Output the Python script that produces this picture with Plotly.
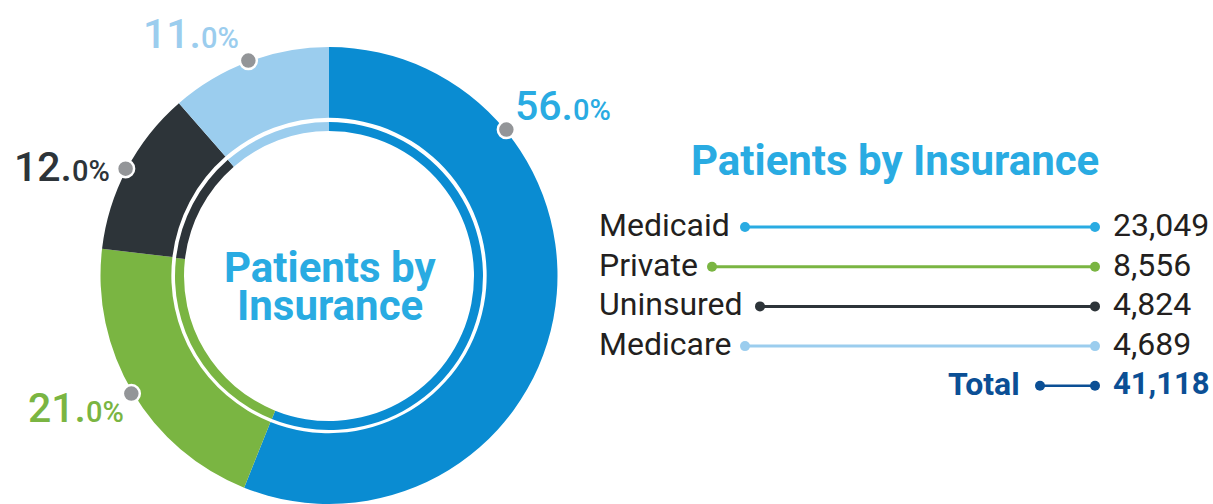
import math
import plotly.graph_objects as go

# ---------------- data ----------------
categories = ["Medicaid", "Private", "Uninsured", "Medicare"]
patients = [23049, 8556, 4824, 4689]
pct_labels = ["56.0%", "21.0%", "12.0%", "11.0%"]
total_label = "Total"
total_value = 41118

# ---------------- styles ----------------
ring_colors = ["#0A8CD2", "#7AB542", "#2D3439", "#9BCDEE"]
text_colors = ["#29ABE2", "#7AB542", "#2D3439", "#9BCDEE"]
line_colors = ["#29ABE2", "#7AB542", "#2D3439", "#9BCDEE"]
total_color = "#0B4F95"
title_color = "#29ABE2"
label_color = "#231F20"
dot_grey = "#939598"
FONT = "Roboto"

W, H = 1213, 504
CX, CY = 329, 276          # donut centre (pixels from top-left)
R_OUT, R_IN = 229, 158     # thick ring
R2_OUT, R2_IN = 154, 145   # thin inner ring

# where along each slice the call-out dot sits (fraction of slice)
dot_pos_in_slice = [0.25, 0.5, 0.5, 0.5]
# label offsets from dot: (xanchor, xshift, yshift)
label_offsets = [("left", 7, -24), ("right", -5, 14), ("right", -14, -2), ("right", -7, -27)]

# legend block
row_y0, row_dy = 227, 39.7
line_starts = [745, 712, 760, 745]
line_end = 1095
value_x = 1111
label_x = 597
total_line_start = 1040

fig = go.Figure()


def dom_x(r):
    return [(CX - r) / W, (CX + r) / W]


def dom_y(r):
    cyb = H - CY
    return [max(0, (cyb - r) / H), min(1, (cyb + r) / H)]


# thick ring
fig.add_trace(go.Pie(
    labels=categories, values=patients, hole=R_IN / R_OUT,
    marker=dict(colors=ring_colors, line=dict(width=0)),
    sort=False, direction="clockwise", rotation=0,
    textinfo="none", hoverinfo="label+value+percent", showlegend=False,
    domain=dict(x=dom_x(R_OUT), y=dom_y(R_OUT)),
))
# thin inner ring
fig.add_trace(go.Pie(
    labels=categories, values=patients, hole=R2_IN / R2_OUT,
    marker=dict(colors=ring_colors, line=dict(width=0)),
    sort=False, direction="clockwise", rotation=0,
    textinfo="none", hoverinfo="label+value+percent", showlegend=False,
    domain=dict(x=dom_x(R2_OUT), y=dom_y(R2_OUT)),
))

# call-out dots and percentage labels
total = sum(patients)
cum = 0
shapes = []
annotations = []
for i, v in enumerate(patients):
    a = (cum + v * dot_pos_in_slice[i]) / total * 2 * math.pi
    cum += v
    r = R_OUT + 1
    x = CX + r * math.sin(a)
    y = CY - r * math.cos(a)
    rr = 8.5
    shapes.append(dict(type="circle", xref="x", yref="y", layer="above",
                       x0=x - rr, x1=x + rr, y0=y - rr, y1=y + rr,
                       fillcolor=dot_grey, line=dict(color="white", width=2.5)))
    big, small = pct_labels[i].split(".")
    txt = (f"<span style='font-size:41px'>{big}.</span>"
           f"<span style='font-size:29px'>{small}</span>")
    xa, xs, ys = label_offsets[i]
    annotations.append(dict(x=x, y=y, xref="x", yref="y", text=txt, showarrow=False,
                            xanchor=xa, yanchor="middle", xshift=xs, yshift=-ys,
                            font=dict(family=FONT, size=41, color=text_colors[i], weight=500)))

# centre title
annotations.append(dict(x=CX + 1, y=267, xref="x", yref="y", text="Patients by", showarrow=False,
                        font=dict(family=FONT, size=42, color=title_color, weight=700),
                        xanchor="center", yanchor="middle"))
annotations.append(dict(x=CX + 1, y=305, xref="x", yref="y", text="Insurance", showarrow=False,
                        font=dict(family=FONT, size=42, color=title_color, weight=700),
                        xanchor="center", yanchor="middle"))
# right title
annotations.append(dict(x=895, y=160, xref="x", yref="y", text="Patients by Insurance", showarrow=False,
                        font=dict(family=FONT, size=42, color=title_color, weight=700),
                        xanchor="center", yanchor="middle"))

# legend rows
for i, cat in enumerate(categories):
    y = row_y0 + i * row_dy
    fig.add_trace(go.Scatter(
        x=[line_starts[i], line_end], y=[y, y], mode="lines+markers",
        line=dict(color=line_colors[i], width=3),
        marker=dict(color=line_colors[i], size=10),
        hoverinfo="skip", showlegend=False))
    annotations.append(dict(x=label_x, y=y - 2, xref="x", yref="y", text=cat, showarrow=False,
                            xanchor="left", yanchor="middle",
                            font=dict(family=FONT, size=32, color=label_color)))
    annotations.append(dict(x=value_x, y=y - 2, xref="x", yref="y", text=f"{patients[i]:,}",
                            showarrow=False, xanchor="left", yanchor="middle",
                            font=dict(family=FONT, size=32, color=label_color)))

# total row
yt = row_y0 + len(categories) * row_dy
fig.add_trace(go.Scatter(
    x=[total_line_start, line_end], y=[yt, yt], mode="lines+markers",
    line=dict(color=total_color, width=2.5), marker=dict(color=total_color, size=10),
    hoverinfo="skip", showlegend=False))
annotations.append(dict(x=1022, y=yt - 2, xref="x", yref="y", text=total_label, showarrow=False,
                        xanchor="right", yanchor="middle",
                        font=dict(family=FONT, size=32, color=total_color, weight=700)))
annotations.append(dict(x=value_x, y=yt - 2, xref="x", yref="y", text=f"{total_value:,}",
                        showarrow=False, xanchor="left", yanchor="middle",
                        font=dict(family=FONT, size=31, color=total_color, weight=700)))

fig.update_layout(
    width=W, height=H, margin=dict(l=0, r=0, t=0, b=0),
    paper_bgcolor="white", plot_bgcolor="white",
    xaxis=dict(range=[0, W], domain=[0, 1], visible=False, fixedrange=True),
    yaxis=dict(range=[H, 0], domain=[0, 1], visible=False, fixedrange=True),
    shapes=shapes, annotations=annotations,
)

fig.write_html("out.html", config={"displayModeBar": False},
               post_script="document.body.style.margin='0px';document.body.style.overflow='hidden';")
